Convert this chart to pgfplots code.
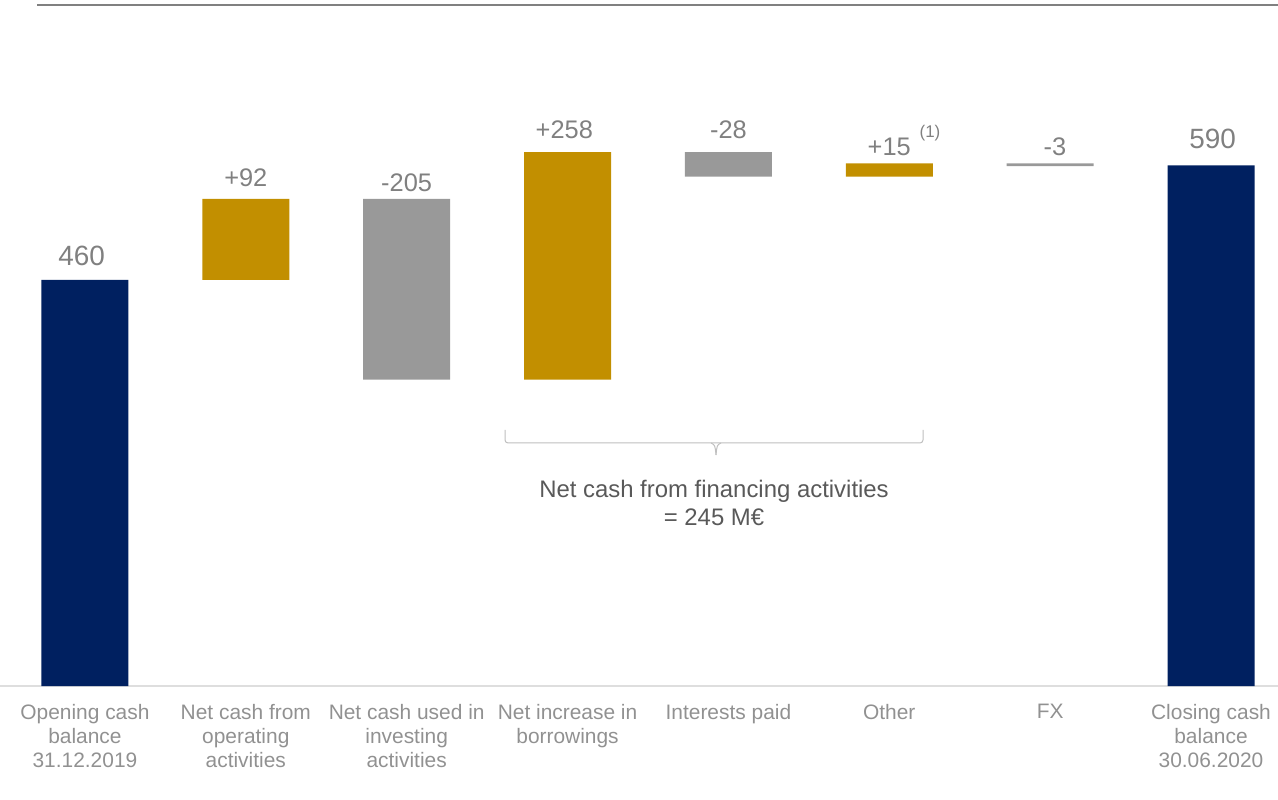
\documentclass[border=0pt]{standalone}
\usepackage{fontspec}
\setmainfont{Liberation Sans}
\usepackage{pgfplots}
\pgfplotsset{compat=1.18}
\definecolor{navy}{RGB}{0,32,96}
\definecolor{gold}{RGB}{194,143,0}
\definecolor{bargray}{RGB}{153,153,153}
\definecolor{valgray}{RGB}{128,128,128}
\definecolor{catgray}{RGB}{145,145,145}
\definecolor{anngray}{RGB}{89,89,89}
\newcommand\catfont{\fontsize{21}{24}\selectfont}
\newcommand\valfont{\fontsize{25.5}{28}\selectfont}
\newcommand\bigfont{\fontsize{28}{30}\selectfont}
\newcommand\annfont{\fontsize{24}{29}\selectfont}
\newcommand\supfont{\fontsize{17}{19}\selectfont}
\tikzset{vlab/.style={font=\valfont, text=valgray}, blab/.style={font=\bigfont, text=valgray}}
\begin{document}
\begin{tikzpicture}
\useasboundingbox (0,-114bp) rectangle (1278bp,686bp);
\begin{axis}[
  at={(0,0)}, anchor=south west,
  scale only axis, width=1278bp, height=686bp,
  xmin=-0.528, xmax=7.4165, ymin=0, ymax=777.25,
  ybar stacked, bar width=87bp, clip=false,
  axis x line*=bottom, axis y line=none,
  x axis line style={draw=black!13, line width=2bp},
  xtick={0,1,2,3,4,5,6,7},
  xticklabels={{Opening cash\\balance\\31.12.2019}, {Net cash from\\operating\\activities}, {Net cash used in\\investing\\activities}, {Net increase in\\borrowings}, {Interests paid}, {Other}, {FX}, {Closing cash\\balance\\30.06.2020}},
  major tick length=0pt, ytick=\empty,
  xticklabel style={font=\catfont, text=catgray, align=center, anchor=north, inner sep=0pt, yshift=-18bp},
]
\addplot[draw=none, fill=none] coordinates {(0,0) (1,460) (2,347) (3,347) (4,577) (5,577) (6,589) (7,0)};
\addplot[draw=none, fill=navy] coordinates {(0,460) (1,0) (2,0) (3,0) (4,0) (5,0) (6,0) (7,590)};
\addplot[draw=none, fill=gold] coordinates {(0,0) (1,92) (2,0) (3,258) (4,0) (5,15) (6,0) (7,0)};
\addplot[draw=none, fill=bargray] coordinates {(0,0) (1,0) (2,205) (3,0) (4,28) (5,0) (6,3) (7,0)};
\node[blab] at (axis cs:-0.02,487.2) {460};
\node[vlab] at (axis cs:1,575.6) {+92};
\node[vlab] at (axis cs:2,569.9) {-205};
\node[vlab] at (axis cs:2.98,630.0) {+258};
\node[vlab] at (axis cs:4,630.0) {-28};
\node[vlab] at (axis cs:5,610.7) {+15};
\node[vlab] at (axis cs:6.03,610.7) {-3};
\node[blab] at (axis cs:7.01,619.8) {590};
\end{axis}
% top rule
\draw[draw=valgray, line width=2bp] (37bp,681bp) -- (1278bp,681bp);
% superscript
\node[font=\supfont, text=valgray] at (930bp,553bp) {(1)};
% brace
\draw[draw=black!25, line width=1bp, rounded corners=3bp] (505bp,256bp) -- (505bp,243bp) -- (923bp,243bp) -- (923bp,256bp);
\draw[draw=black!25, line width=1bp] (711bp,243bp) .. controls (715bp,241bp) .. (716bp,231bp);
\draw[draw=black!25, line width=1bp] (721bp,243bp) .. controls (717bp,241bp) .. (716bp,231bp);
\node[font=\annfont, text=anngray, align=center] at (714bp,183bp) {Net cash from financing activities\\= 245 M€};
\end{tikzpicture}
\end{document}
